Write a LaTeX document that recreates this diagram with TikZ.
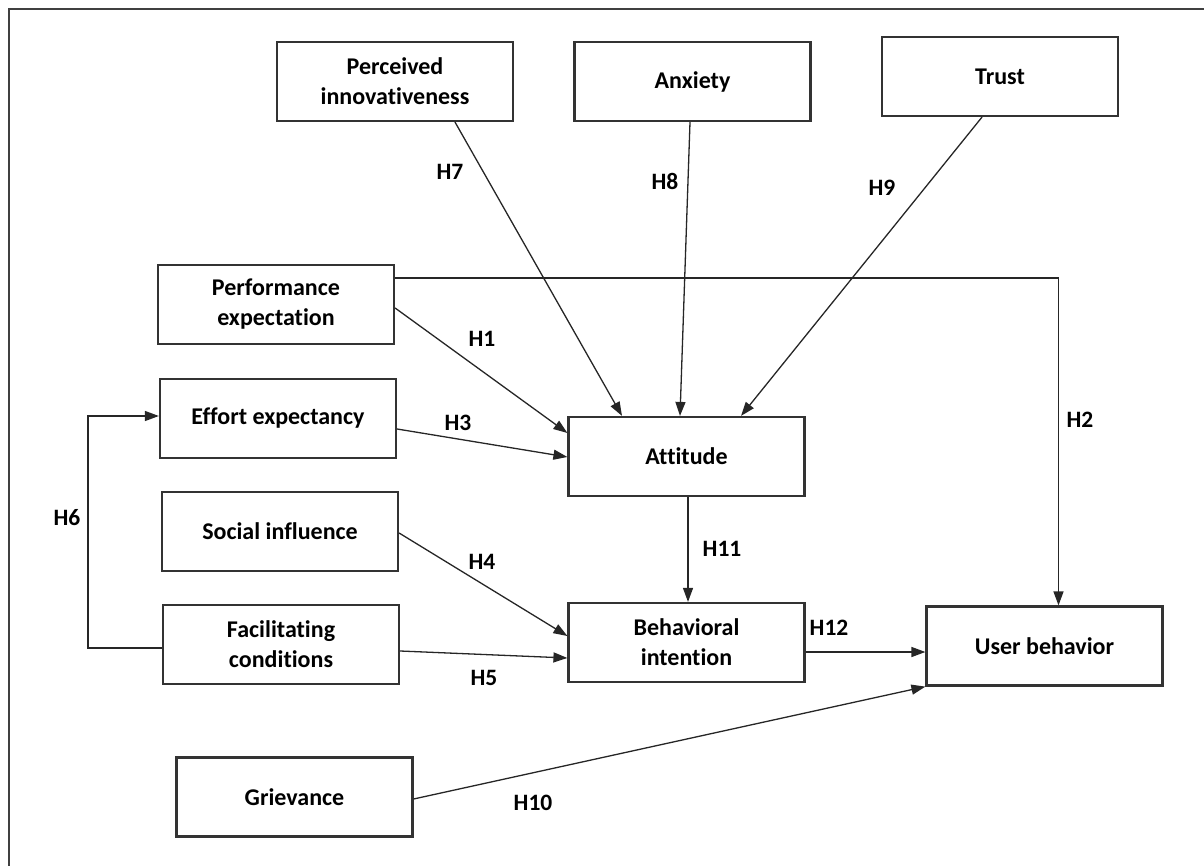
\documentclass[tikz,border=0pt]{standalone}
\usepackage{fontspec}
\setmainfont{Carlito}[Ligatures=NoCommon]
\usetikzlibrary{arrows.meta}
\begin{document}
\begin{tikzpicture}[x=1pt,y=-1pt,
  box/.style={draw=black!80,line width=2.2pt,minimum width=236pt,minimum height=79pt,
    align=center,inner sep=0pt,font=\fontsize{24}{30}\selectfont\bfseries},
  lbl/.style={font=\fontsize{23.5}{26}\selectfont\bfseries},
  arr/.style={draw=black!85,line width=1.3pt,-{Triangle[length=14pt,width=10pt]}}]
\useasboundingbox (0,0) rectangle (1204,866);
% outer frame
\draw[black!75,line width=2pt] (1210,9) -- (9,9) -- (9,880);
% constructs
\node[box] (pi)    at (395,81.5)   {Perceived\\innovativeness};
\node[box] (anx)   at (692.5,81.5) {Anxiety};
\node[box] (trust) at (1000,76.5)  {Trust};
\node[box] (perf)  at (276,304.5)  {Performance\\expectation};
\node[box] (eff)   at (278,418.5)  {Effort expectancy};
\node[box] (att)   at (686.5,456.5){Attitude};
\node[box] (soc)   at (280,531.5)  {Social influence};
\node[box] (fac)   at (281,644.5)  {Facilitating\\conditions};
\node[box] (bi)    at (686.5,642.5){Behavioral\\intention};
\node[box] (ub)    at (1044.5,646) {User behavior};
\node[box] (gr)    at (294.5,797)  {Grievance};
% paths
\draw[arr] ([xshift=60pt]pi.south) -- ([xshift=-64.5pt]att.north);
\draw[arr] ([xshift=-2.5pt]anx.south) -- ([xshift=-6.5pt]att.north);
\draw[arr] ([xshift=-18pt]trust.south) -- ([xshift=54.5pt]att.north);
\draw[arr] ([yshift=-3.5pt]perf.east) -- ([yshift=23.5pt]att.west);
\draw[arr] ([yshift=26.5pt]perf.east) -| ([xshift=14pt]ub.north);
\draw[arr] ([yshift=-10.5pt]eff.east) -- ([yshift=-0.5pt]att.west);
\draw[arr] ([yshift=-1.5pt]soc.east) -- ([yshift=6.5pt]bi.west);
\draw[arr] ([yshift=-6.5pt]fac.east) -- ([yshift=-15.5pt]bi.west);
\draw[arr] ([xshift=1.5pt]att.south) -- ([xshift=1.5pt]bi.north);
\draw[arr] ([yshift=-9.5pt]bi.east) -- ([yshift=-6pt]ub.west);
\draw[arr] ([yshift=-2pt]gr.east) -- (ub.south west);
\coordinate (h6bend) at (88,416);
\draw[arr] ([yshift=-3.5pt]fac.west) -| (h6bend) -- ([yshift=2.5pt]eff.west);
% hypothesis labels
\node[lbl] (h7)  at (450,172) {H7};
\node[lbl] (h8)  at (665,181) {H8};
\node[lbl] (h9)  at (882,188) {H9};
\node[lbl] (h1)  at (482,339) {H1};
\node[lbl] (h3)  at (458,423) {H3};
\node[lbl] (h2)  at (1080,420) {H2};
\node[lbl] (h6)  at (67,518) {H6};
\node[lbl] (h11) at (722,549) {H11};
\node[lbl] (h4)  at (482,562) {H4};
\node[lbl] (h5)  at (484,678) {H5};
\node[lbl] (h12) at (829,628) {H12};
\node[lbl] (h10) at (533,803) {H10};
\end{tikzpicture}
\end{document}
